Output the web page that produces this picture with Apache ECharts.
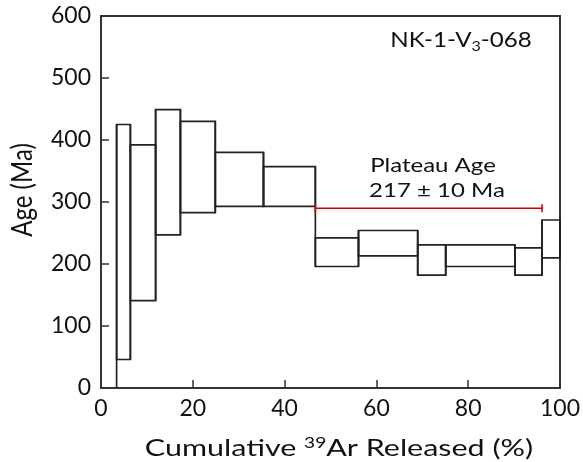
<!DOCTYPE html>
<html>
<head>
<meta charset="utf-8">
<script src="https://cdn.jsdelivr.net/npm/echarts@6/dist/echarts.min.js"></script>
<style>
html,body{margin:0;padding:0;background:#fff;}
#chart{width:583px;height:462px;}
</style>
</head>
<body>
<div id="chart"></div>
<script>
// Step heating data (cumulative 39Ar %, age Ma)
var stepStart = [3.4, 6.4, 11.9, 17.3, 24.9, 35.4, 46.7, 56.1, 69.0, 75.1, 90.2, 96.1];
var stepEnd   = [6.4, 11.9, 17.3, 24.9, 35.4, 46.7, 56.1, 69.0, 75.1, 90.2, 96.1, 100];
var ageLow    = [46, 141, 247, 283, 293, 293, 196, 213, 182, 196, 182, 210];
var ageHigh   = [425, 392, 449, 430, 380, 357, 242, 254, 231, 231, 226, 271];
// Plateau segment
var plateauX = [46.7, 96.1];
var plateauY = 290;
var xTicks = [0, 20, 40, 60, 80, 100];
var yTicks = [0, 100, 200, 300, 400, 500, 600];

var FONT = 'Lato';
var boxes = stepStart.map(function (s, i) { return [s, stepEnd[i], ageLow[i], ageHigh[i]]; });
// vertical boundaries between adjacent steps span the union of both ranges
var bounds = [[stepStart[0], 0, ageHigh[0]]];
for (var i = 0; i < stepEnd.length - 1; i++) {
  bounds.push([stepEnd[i], Math.min(ageLow[i], ageLow[i + 1]), Math.max(ageHigh[i], ageHigh[i + 1])]);
}

var LW = 1.7, LC = '#222';
var chart = echarts.init(document.getElementById('chart'));
chart.setOption({
  animation: false,
  backgroundColor: '#fff',
  grid: { left: 101, right: 17, top: 16, bottom: 74, show: true, borderColor: '#333', borderWidth: 2, backgroundColor: 'transparent' },
  xAxis: {
    type: 'value', min: xTicks[0], max: xTicks[xTicks.length - 1], interval: 20,
    axisLine: { lineStyle: { color: '#333', width: 2 } },
    axisTick: { inside: true, length: 8, lineStyle: { color: '#333', width: 1.5 } },
    axisLabel: { color: '#111', fontSize: 23, fontFamily: FONT, margin: 9 },
    splitLine: { show: false }
  },
  yAxis: {
    type: 'value', min: yTicks[0], max: yTicks[yTicks.length - 1], interval: 100,
    axisLine: { show: true, lineStyle: { color: '#333', width: 2 } },
    axisTick: { show: true, inside: true, length: 8, lineStyle: { color: '#333', width: 1.5 } },
    axisLabel: { color: '#111', fontSize: 23, fontFamily: FONT, margin: 10 },
    splitLine: { show: false }
  },
  graphic: [
    { type: 'text', x: 461, y: 40, scaleX: 1.15, style: {
        text: '{a|NK-1-V}{s|3}{a|-068}', align: 'center', verticalAlign: 'middle', rich: {
          a: { fontSize: 21, fontFamily: FONT, fill: '#111', verticalAlign: 'bottom' },
          s: { fontSize: 14, fontFamily: FONT, fill: '#111', verticalAlign: 'bottom', padding: [0, 0, -3, 0] }
        } } },
    { type: 'text', x: 433, y: 166, scaleX: 1.2, style: { text: 'Plateau Age', fontSize: 20, fontFamily: FONT, fill: '#111', align: 'center', verticalAlign: 'middle' } },
    { type: 'text', x: 437, y: 191, scaleX: 1.2, style: { text: '217 ± 10 Ma', fontSize: 20, fontFamily: FONT, fill: '#111', align: 'center', verticalAlign: 'middle' } },
    { type: 'text', x: 23, y: 190, rotation: Math.PI / 2, scaleY: 1.2, style: { text: 'Age (Ma)', fontSize: 24, fontFamily: FONT, fill: '#111', align: 'center', verticalAlign: 'middle' } },
    { type: 'text', x: 339, y: 448, scaleX: 1.27, style: {
        text: '{a|Cumulative }{s|39}{a|Ar Released (%)}', align: 'center', verticalAlign: 'middle', rich: {
          a: { fontSize: 24, fontFamily: FONT, fill: '#111', verticalAlign: 'bottom' },
          s: { fontSize: 15, fontFamily: FONT, fill: '#111', verticalAlign: 'top' }
        } } }
  ],
  series: [
    {
      type: 'custom',
      data: boxes,
      renderItem: function (params, api) {
        var p1 = api.coord([api.value(0), api.value(3)]);
        var p2 = api.coord([api.value(1), api.value(2)]);
        return { type: 'rect', shape: { x: p1[0], y: p1[1], width: p2[0] - p1[0], height: p2[1] - p1[1] },
          style: { fill: 'none', stroke: LC, lineWidth: LW } };
      }
    },
    {
      type: 'custom',
      data: bounds,
      renderItem: function (params, api) {
        var a = api.coord([api.value(0), api.value(1)]);
        var b = api.coord([api.value(0), api.value(2)]);
        return { type: 'line', shape: { x1: a[0], y1: a[1], x2: b[0], y2: b[1] }, style: { stroke: LC, lineWidth: LW } };
      }
    },
    {
      type: 'custom',
      data: [[plateauX[0], plateauX[1], plateauY]],
      renderItem: function (params, api) {
        var a = api.coord([api.value(0), api.value(2)]);
        var b = api.coord([api.value(1), api.value(2)]);
        var st = { stroke: '#d40000', lineWidth: 1.6 };
        return { type: 'group', children: [
          { type: 'line', shape: { x1: a[0], y1: a[1], x2: b[0], y2: b[1] }, style: st },
          { type: 'line', shape: { x1: a[0], y1: a[1] - 4, x2: a[0], y2: a[1] + 4 }, style: st },
          { type: 'line', shape: { x1: b[0], y1: b[1] - 4, x2: b[0], y2: b[1] + 4 }, style: st }
        ] };
      }
    }
  ]
});
</script>
</body>
</html>
